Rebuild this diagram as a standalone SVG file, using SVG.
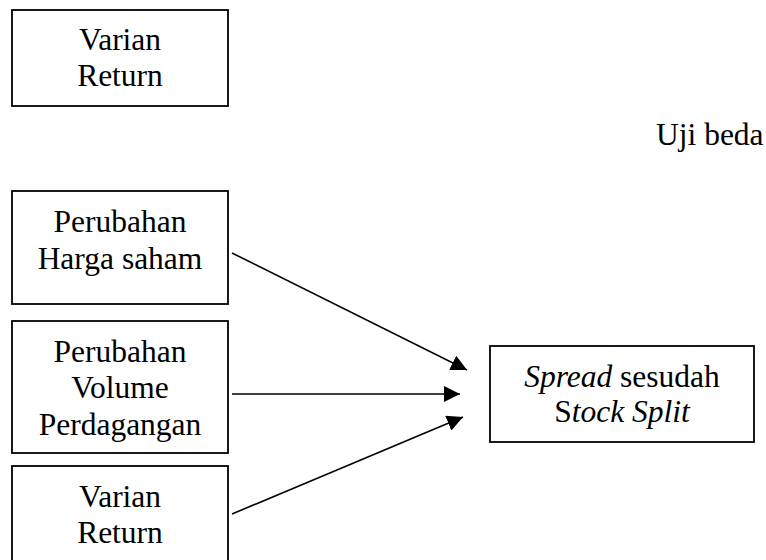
<svg xmlns="http://www.w3.org/2000/svg" width="766" height="560" viewBox="0 0 766 560">
<style>
.box{fill:#fff;stroke:#000;stroke-width:1.8}
.t{font-family:"Liberation Serif","Times New Roman",serif;font-size:31.5px;fill:#000;text-anchor:middle}
.it{font-style:italic}
.c{stroke:#000;stroke-width:1.6;fill:none}
</style>
<defs>
<marker id="ah" viewBox="0 0 10 10" refX="10" refY="5" markerWidth="16" markerHeight="16" markerUnits="userSpaceOnUse" orient="auto">
<path d="M0,0 L10,5 L0,10 z" fill="#000"/>
</marker>
</defs>
<rect width="766" height="560" fill="#fff"/>
<g id="varian-top">
<rect class="box" x="12" y="10" width="216" height="96"/>
<text class="t" x="120" y="50">Varian</text>
<text class="t" x="120" y="86">Return</text>
</g>
<g id="uji-beda">
<text class="t" x="656" y="145" style="text-anchor:start">Uji beda</text>
</g>
<g id="harga">
<rect class="box" x="12" y="191" width="216" height="113"/>
<text class="t" x="120" y="232">Perubahan</text>
<text class="t" x="120" y="269">Harga saham</text>
</g>
<g id="volume">
<rect class="box" x="12" y="321" width="216" height="132"/>
<text class="t" x="120" y="362">Perubahan</text>
<text class="t" x="120" y="398">Volume</text>
<text class="t" x="120" y="435">Perdagangan</text>
</g>
<g id="varian">
<rect class="box" x="12" y="466" width="216" height="110"/>
<text class="t" x="120" y="507">Varian</text>
<text class="t" x="120" y="543">Return</text>
</g>
<g id="spread">
<rect class="box" x="490" y="346" width="264" height="96"/>
<text class="t" x="622" y="387"><tspan class="it">Spread</tspan> sesudah</text>
<text class="t" x="622" y="422">S<tspan class="it">tock Split</tspan></text>
</g>
<g id="connectors">
<line class="c" x1="232" y1="253" x2="467" y2="370" marker-end="url(#ah)"/>
<line class="c" x1="232" y1="394" x2="460" y2="394" marker-end="url(#ah)"/>
<line class="c" x1="232" y1="514" x2="463" y2="417" marker-end="url(#ah)"/>
</g>
</svg>
